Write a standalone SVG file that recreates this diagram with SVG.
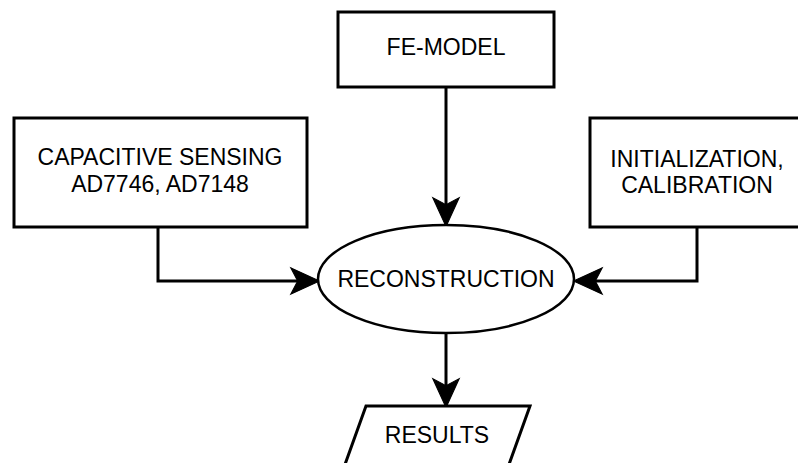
<svg xmlns="http://www.w3.org/2000/svg" width="798" height="463" viewBox="0 0 798 463">
<style>
.box{fill:#fff;stroke:#000;stroke-width:3}
.ell{fill:#fff;stroke:#000;stroke-width:2.5}
.lbl{font-family:"Liberation Sans",Arial,sans-serif;font-size:23px;fill:#000;text-anchor:middle}
.con{fill:none;stroke:#000;stroke-width:3}
</style>
<defs>
<marker id="arr" markerUnits="userSpaceOnUse" markerWidth="40" markerHeight="40" viewBox="-20 -15 35 30" refX="0" refY="0" orient="auto" overflow="visible">
<path d="M10,0 L-15,-11.5 L-9,0 L-15,11.5 Z" fill="#000" stroke="#000" stroke-width="1"/>
</marker>
</defs>
<rect width="798" height="463" fill="#fff"/>
<g id="connectors">
<path class="con" d="M446,87 V215" marker-end="url(#arr)"/>
<path class="con" d="M158,227 V281 H308" marker-end="url(#arr)"/>
<path class="con" d="M697,227 V281 H585" marker-end="url(#arr)"/>
<path class="con" d="M446,333 V396" marker-end="url(#arr)"/>
</g>
<g id="fe-model">
<rect class="box" x="338" y="12" width="216" height="75"/>
<text class="lbl" x="446" y="55">FE-MODEL</text>
</g>
<g id="capacitive">
<rect class="box" x="14" y="118" width="293" height="109"/>
<text class="lbl" x="160" y="165">CAPACITIVE SENSING</text>
<text class="lbl" x="160" y="192">AD7746, AD7148</text>
</g>
<g id="initialization">
<rect class="box" x="590" y="118" width="214" height="109"/>
<text class="lbl" x="697" y="167">INITIALIZATION,</text>
<text class="lbl" x="697" y="193">CALIBRATION</text>
</g>
<g id="reconstruction">
<ellipse class="ell" cx="446" cy="279" rx="128" ry="54"/>
<text class="lbl" x="446" y="287">RECONSTRUCTION</text>
</g>
<g id="results">
<polygon class="box" points="366,406 530,406 507,470 343,470"/>
<text class="lbl" x="437" y="443">RESULTS</text>
</g>
</svg>
